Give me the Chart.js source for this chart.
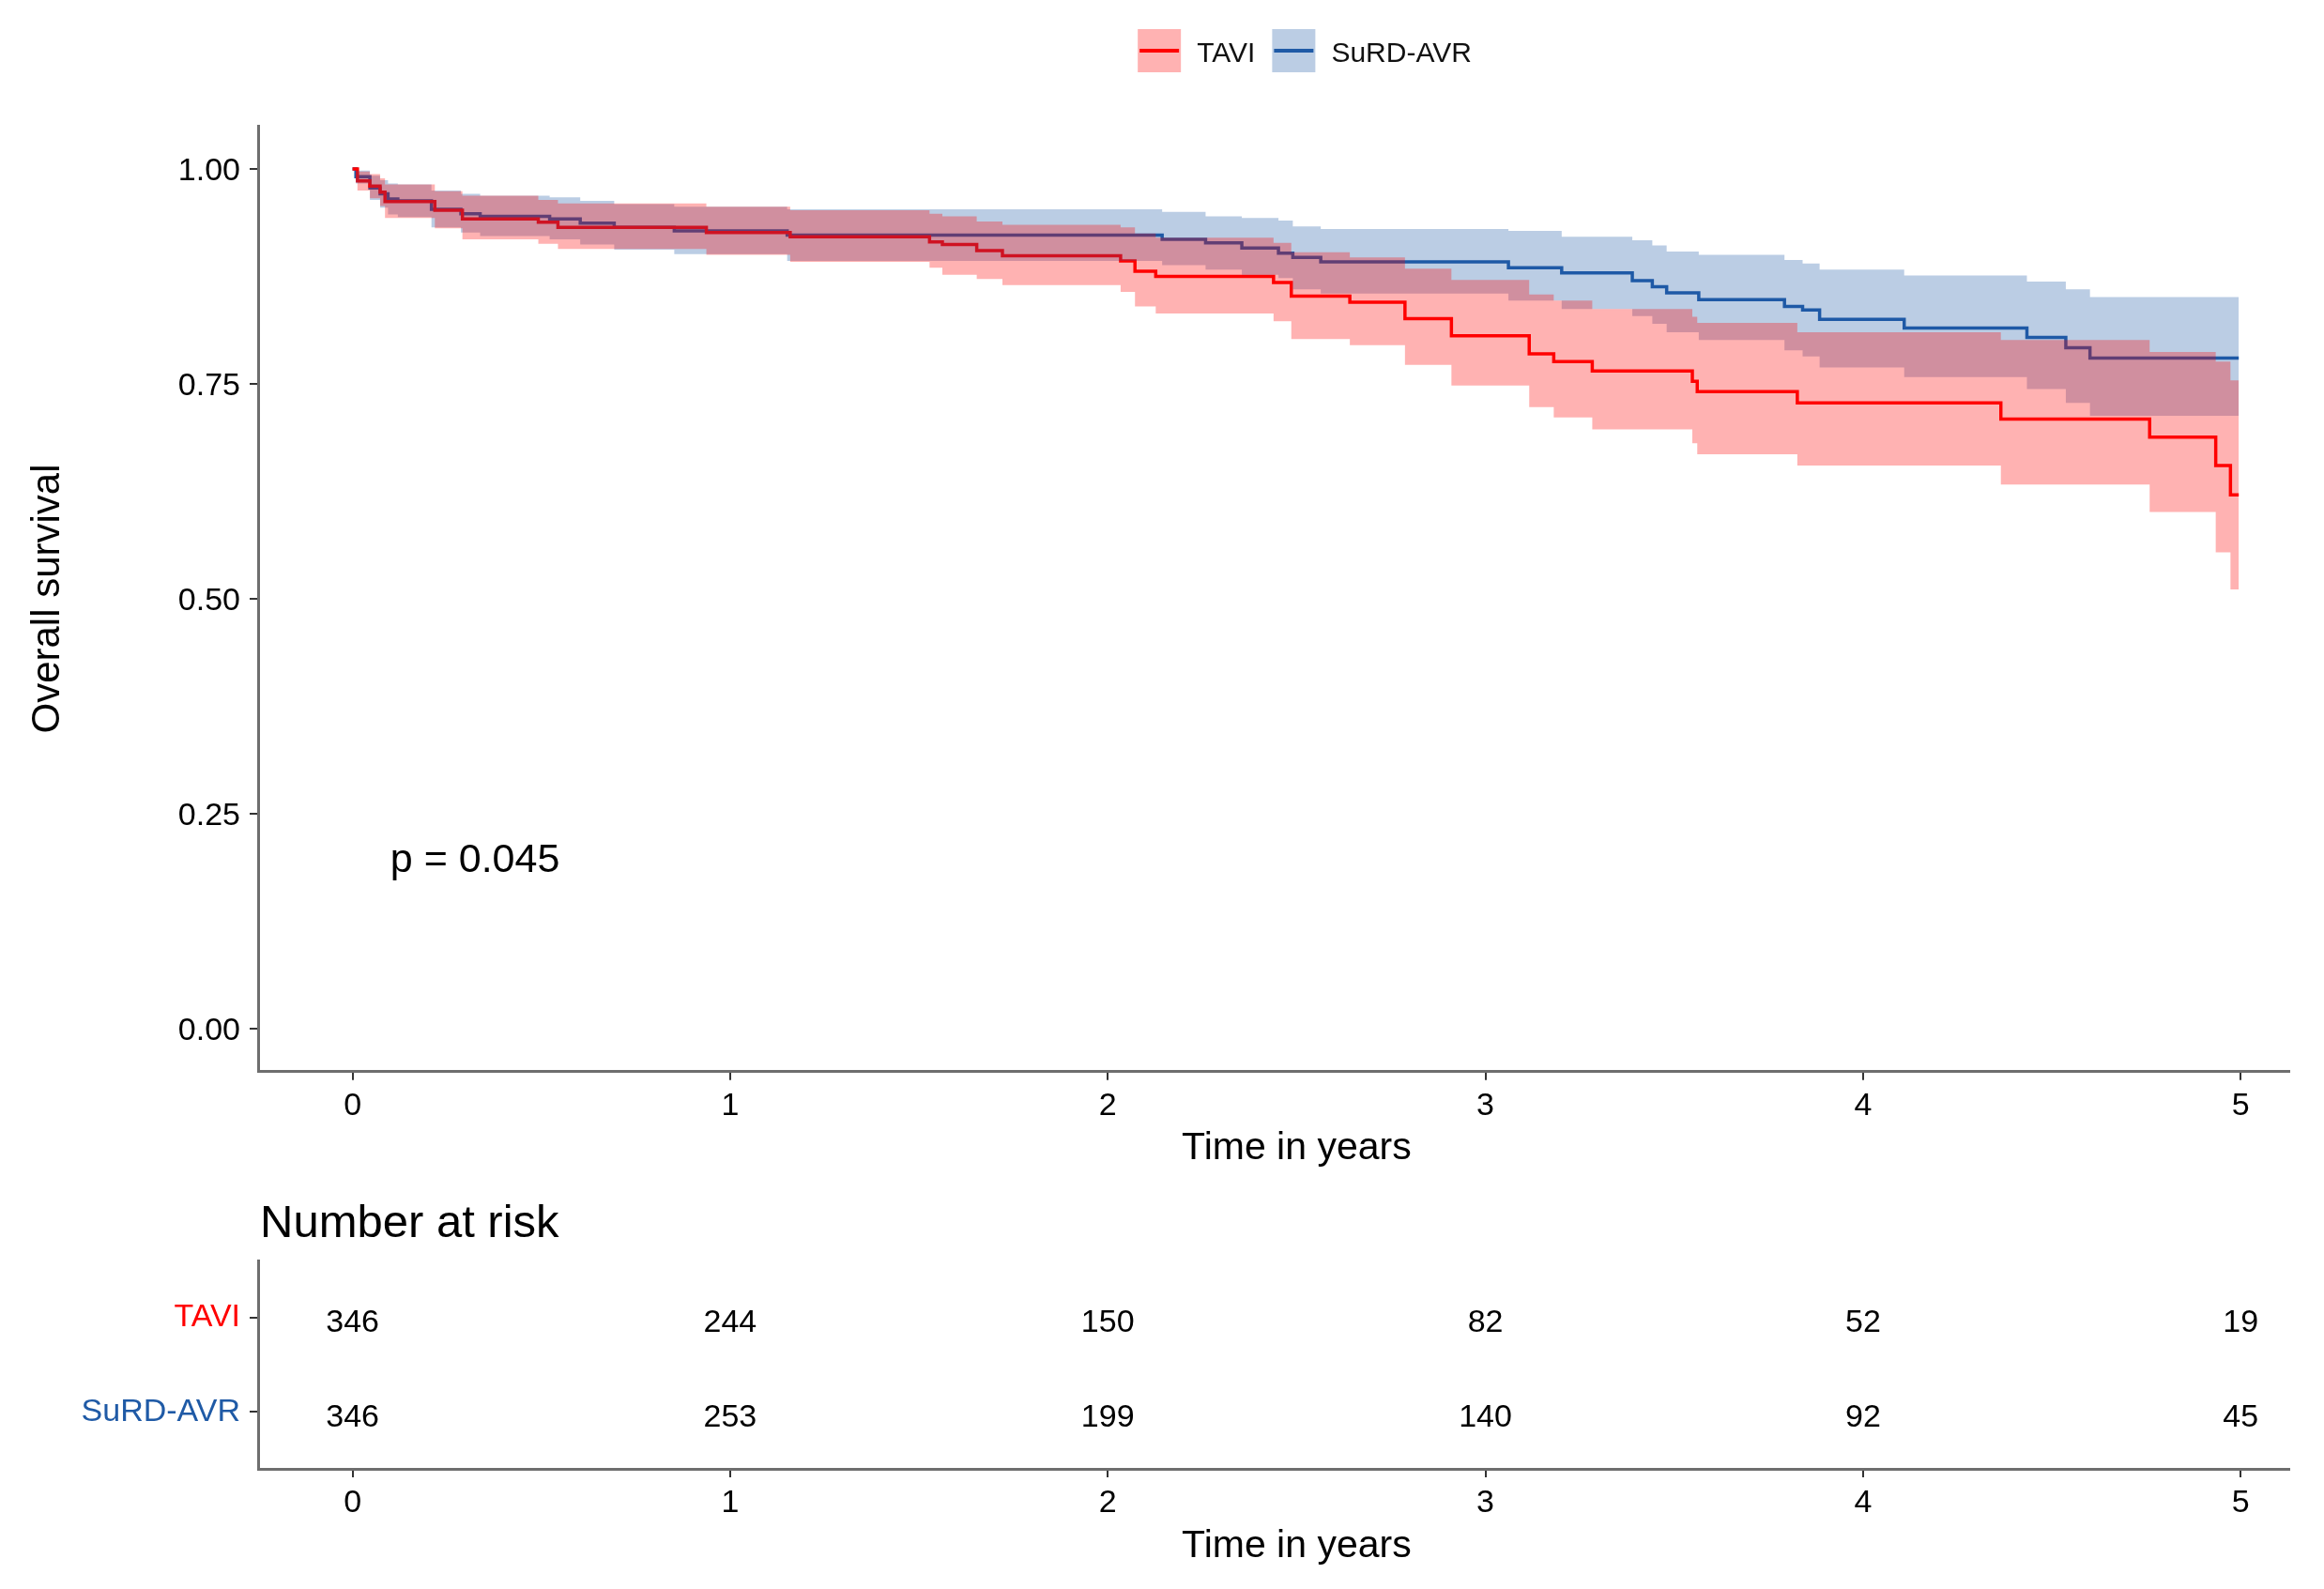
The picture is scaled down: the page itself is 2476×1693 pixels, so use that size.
<!DOCTYPE html>
<html>
<head>
<meta charset="utf-8">
<script src="https://cdn.jsdelivr.net/npm/chart.js@4.4.1/dist/chart.umd.min.js"></script>
<style>
html,body{margin:0;padding:0;background:#ffffff;overflow:hidden;}
#wrap{position:relative;width:2476px;height:1693px;background:#ffffff;}
#km{position:absolute;left:0;top:0;}
#risk{position:absolute;left:0;top:1260px;}
</style>
</head>
<body>
<div id="wrap">
<canvas id="km" width="2476" height="1260"></canvas>
<canvas id="risk" width="2476" height="433"></canvas>
</div>
<script>
// ---------------- DATA ----------------
const groups = ['TAVI', 'SuRD-AVR'];
const groupColors = ['#FF0000', '#1F5AA6'];
const bandColors = ['rgba(255,0,0,0.3)', 'rgba(31,90,166,0.3)'];

const taviTime  = [0, 0.013, 0.046, 0.073, 0.086, 0.218, 0.291, 0.492, 0.544, 0.937, 1.159, 1.528, 1.562, 1.653, 1.721, 2.034, 2.072, 2.127, 2.439, 2.486, 2.641, 2.787, 2.910, 3.116, 3.181, 3.283, 3.548, 3.561, 3.826, 4.365, 4.759, 4.934, 4.973, 4.995];
const taviSurv  = [1.000, 0.986, 0.980, 0.973, 0.962, 0.952, 0.942, 0.938, 0.932, 0.926, 0.921, 0.915, 0.912, 0.905, 0.899, 0.893, 0.881, 0.875, 0.868, 0.852, 0.845, 0.826, 0.806, 0.785, 0.776, 0.765, 0.753, 0.741, 0.728, 0.709, 0.688, 0.655, 0.621, 0.621];
const taviLower = [1.000, 0.975, 0.966, 0.957, 0.943, 0.931, 0.918, 0.913, 0.907, 0.900, 0.892, 0.885, 0.877, 0.872, 0.865, 0.857, 0.840, 0.832, 0.823, 0.802, 0.795, 0.772, 0.748, 0.723, 0.711, 0.697, 0.681, 0.668, 0.655, 0.633, 0.601, 0.554, 0.511, 0.511];
const taviUpper = [1.000, 0.997, 0.994, 0.989, 0.982, 0.974, 0.969, 0.964, 0.960, 0.956, 0.952, 0.948, 0.945, 0.939, 0.935, 0.932, 0.925, 0.920, 0.914, 0.903, 0.897, 0.884, 0.871, 0.854, 0.847, 0.837, 0.828, 0.821, 0.810, 0.801, 0.787, 0.776, 0.754, 0.754];

const surdTime  = [0, 0.009, 0.046, 0.073, 0.094, 0.120, 0.209, 0.287, 0.338, 0.522, 0.603, 0.693, 0.852, 1.151, 2.144, 2.259, 2.355, 2.452, 2.490, 2.564, 3.061, 3.202, 3.389, 3.442, 3.480, 3.565, 3.792, 3.840, 3.885, 4.109, 4.434, 4.537, 4.601, 4.995];
const surdSurv  = [1.000, 0.991, 0.978, 0.971, 0.965, 0.963, 0.953, 0.948, 0.945, 0.942, 0.937, 0.932, 0.928, 0.923, 0.918, 0.914, 0.908, 0.902, 0.897, 0.892, 0.885, 0.879, 0.870, 0.863, 0.856, 0.848, 0.840, 0.836, 0.825, 0.815, 0.804, 0.792, 0.780, 0.780];
const surdLower = [1.000, 0.983, 0.964, 0.955, 0.947, 0.944, 0.932, 0.926, 0.922, 0.918, 0.912, 0.906, 0.901, 0.893, 0.888, 0.883, 0.877, 0.873, 0.860, 0.855, 0.847, 0.837, 0.829, 0.820, 0.810, 0.801, 0.789, 0.782, 0.769, 0.758, 0.744, 0.728, 0.713, 0.713];
const surdUpper = [1.000, 0.998, 0.992, 0.987, 0.983, 0.982, 0.975, 0.971, 0.969, 0.967, 0.963, 0.959, 0.956, 0.953, 0.950, 0.945, 0.943, 0.940, 0.933, 0.930, 0.928, 0.921, 0.917, 0.911, 0.904, 0.900, 0.894, 0.890, 0.883, 0.876, 0.869, 0.860, 0.851, 0.851];

const xTicks = [0, 1, 2, 3, 4, 5];
const xTickLabels = ['0', '1', '2', '3', '4', '5'];
const yTicks = [0, 0.25, 0.5, 0.75, 1];
const yTickLabels = ['0.00', '0.25', '0.50', '0.75', '1.00'];

const riskTimes = [0, 1, 2, 3, 4, 5];
const taviRisk = [346, 244, 150, 82, 52, 19];
const surdRisk = [346, 253, 199, 140, 92, 45];

const pValueText = 'p = 0.045';
const pValuePos = [0.1, 0.2];

const xTitle = 'Time in years';
const yTitle = 'Overall survival';
const riskTitle = 'Number at risk';

// ---------------- STYLE ----------------
const FONT = "'Liberation Sans', Arial, Helvetica, sans-serif";
const TICK_SIZE = 34;
const AXIS_LINE = 'rgb(110,110,110)';
const TICK_COLOR = '#333333';

function pts(t, v) { return t.map((x, i) => ({ x: x, y: v[i] })); }

function lineDs(label, t, v, color) {
  return { label: label, data: pts(t, v), borderColor: color, borderWidth: 3.5,
           stepped: true, pointRadius: 0, fill: false, order: 10 };
}
function bandDs(label, t, v, color, fill, order) {
  return { label: label, data: pts(t, v), borderColor: 'rgba(0,0,0,0)', borderWidth: 0,
           backgroundColor: color, stepped: true, pointRadius: 0, fill: fill, order: order };
}

function axisCommon(min, max, ticks, labels) {
  return {
    type: 'linear', min: min, max: max,
    afterBuildTicks: s => { s.ticks = ticks.map(v => ({ value: v })); },
    ticks: { font: { family: FONT, size: TICK_SIZE }, color: '#000', autoSkip: false, maxRotation: 0,
             callback: (v, i) => labels[i] },
    grid: { display: true, drawOnChartArea: false, drawTicks: true, tickLength: 9,
            color: TICK_COLOR, lineWidth: 2 },
    border: { display: true, color: AXIS_LINE, width: 3 }
  };
}

// plugin: x-axis title centred on the nominal range, p-value and legend
const kmDecor = {
  id: 'kmDecor',
  afterDraw(chart) {
    const ctx = chart.ctx, xs = chart.scales.x, ys = chart.scales.y;
    ctx.save();
    // x title
    ctx.fillStyle = '#000';
    ctx.font = '41px ' + FONT;
    ctx.textAlign = 'center';
    ctx.textBaseline = 'middle';
    ctx.fillText(xTitle, xs.getPixelForValue(2.5), chart.chartArea.bottom + 82);
    // p value
    ctx.font = '43px ' + FONT;
    ctx.textAlign = 'left';
    ctx.fillText(pValueText, xs.getPixelForValue(pValuePos[0]), ys.getPixelForValue(pValuePos[1]) + 4);
    // legend
    ctx.font = '30px ' + FONT;
    const box = 46, gapText = 17, gapItem = 18, top = 31;
    const widths = groups.map(g => ctx.measureText(g).width);
    let total = gapItem * (groups.length - 1);
    widths.forEach(w => { total += box + gapText + w; });
    let x = 1390 - total / 2;
    groups.forEach((g, i) => {
      ctx.fillStyle = bandColors[i];
      ctx.fillRect(x, top, box, box);
      ctx.strokeStyle = groupColors[i];
      ctx.lineWidth = 4;
      ctx.beginPath();
      ctx.moveTo(x + 2, top + box / 2);
      ctx.lineTo(x + box - 2, top + box / 2);
      ctx.stroke();
      ctx.fillStyle = '#111';
      ctx.textAlign = 'left';
      ctx.textBaseline = 'alphabetic';
      ctx.fillText(g, x + box + gapText, 66);
      x += box + gapText + widths[i] + gapItem;
    });
    ctx.restore();
  }
};

const xMain = axisCommon(-0.25, 5.128, xTicks, xTickLabels);
xMain.afterFit = s => { s.height = 118.2; };
xMain.ticks.padding = 7;
const yMain = axisCommon(-0.05, 1.05, yTicks, yTickLabels);
yMain.afterFit = s => { s.width = 275; };
yMain.ticks.padding = 10;
yMain.ticks.labelOffset = 3;
yMain.title = { display: true, text: yTitle, color: '#000', font: { family: FONT, size: 42 },
                padding: { top: 26.4, bottom: 0 } };

new Chart(document.getElementById('km'), {
  type: 'line',
  data: {
    datasets: [
      lineDs(groups[0], taviTime, taviSurv, groupColors[0]),
      lineDs(groups[1], surdTime, surdSurv, groupColors[1]),
      bandDs(groups[1] + ' upper', surdTime, surdUpper, bandColors[1], '+1', 5),
      bandDs(groups[1] + ' lower', surdTime, surdLower, bandColors[1], false, 5),
      bandDs(groups[0] + ' upper', taviTime, taviUpper, bandColors[0], '+1', 1),
      bandDs(groups[0] + ' lower', taviTime, taviLower, bandColors[0], false, 1)
    ]
  },
  options: {
    responsive: false, devicePixelRatio: 1, animation: false,
    layout: { padding: { left: 0, right: 37.3, top: 134.2, bottom: 0 } },
    plugins: { legend: { display: false }, tooltip: { enabled: false }, title: { display: false } },
    scales: { x: xMain, y: yMain }
  },
  plugins: [kmDecor]
});

// ---------------- RISK TABLE ----------------
const riskRows = [taviRisk, surdRisk];
const riskDecor = {
  id: 'riskDecor',
  afterDraw(chart) {
    const ctx = chart.ctx, xs = chart.scales.x;
    ctx.save();
    ctx.fillStyle = '#000';
    ctx.font = TICK_SIZE + 'px ' + FONT;
    ctx.textAlign = 'center';
    ctx.textBaseline = 'middle';
    chart.data.datasets.forEach((ds, di) => {
      const meta = chart.getDatasetMeta(di);
      meta.data.forEach((pt, i) => {
        ctx.fillText(String(riskRows[di][i]), pt.x, pt.y + 6);
      });
    });
    ctx.font = '41px ' + FONT;
    ctx.fillText(xTitle, xs.getPixelForValue(2.5), chart.chartArea.bottom + 83);
    ctx.font = '49px ' + FONT;
    ctx.textAlign = 'left';
    ctx.textBaseline = 'alphabetic';
    ctx.fillText(riskTitle, chart.chartArea.left + 2, chart.chartArea.top - 25);
    ctx.restore();
  }
};

const xRisk = axisCommon(-0.25, 5.128, xTicks, xTickLabels);
xRisk.afterFit = s => { s.height = 128; };
xRisk.ticks.padding = 7;
const yRisk = axisCommon(0.4, 2.6, [1, 2], groups);
yRisk.reverse = true;
yRisk.afterFit = s => { s.width = 275; };
yRisk.ticks.padding = 10;
yRisk.ticks.color = c => groupColors[c.index];

new Chart(document.getElementById('risk'), {
  type: 'scatter',
  data: {
    datasets: [
      { label: groups[0], data: riskTimes.map(t => ({ x: t, y: 1 })), pointRadius: 0, showLine: false },
      { label: groups[1], data: riskTimes.map(t => ({ x: t, y: 2 })), pointRadius: 0, showLine: false }
    ]
  },
  options: {
    responsive: false, devicePixelRatio: 1, animation: false,
    layout: { padding: { left: 0, right: 37.3, top: 83, bottom: 0 } },
    plugins: { legend: { display: false }, tooltip: { enabled: false } },
    scales: { x: xRisk, y: yRisk }
  },
  plugins: [riskDecor]
});
</script>
</body>
</html>
